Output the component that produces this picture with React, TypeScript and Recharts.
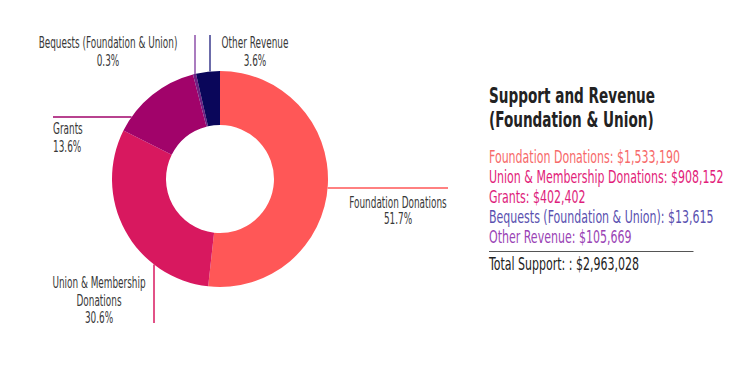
import React from "react";
import { PieChart, Pie, Cell, Legend } from "recharts";

const categories = [
  "Foundation Donations",
  "Union & Membership Donations",
  "Grants",
  "Bequests (Foundation & Union)",
  "Other Revenue",
];
const amounts = [1533190, 908152, 402402, 13615, 105669];
const percentLabels = ["51.7%", "30.6%", "13.6%", "0.3%", "3.6%"];
const chartLabelLines = [
  ["Foundation Donations"],
  ["Union & Membership", "Donations"],
  ["Grants"],
  ["Bequests (Foundation & Union)"],
  ["Other Revenue"],
];
const legendTitle = ["Support and Revenue", "(Foundation & Union)"];
const totalLabel = "Total Support: : $2,963,028";

const sliceColors = ["#FF5757", "#D8185F", "#A1036A", "#6E1F82", "#0A065A"];
const lineColors = ["#FF5757", "#D8185F", "#A1036A", "#8E50AA", "#3B3B8E"];
const legendColors = ["#F76A6A", "#E21D7A", "#DE1E7C", "#5A51B0", "#9A43B5"];

const FONT = "'DejaVu Sans Condensed', 'DejaVu Sans', sans-serif";
const LABEL_SQUEEZE = 0.66;
const LEGEND_SQUEEZE = 0.72;

const data = categories.map((name, i) => ({ name, value: amounts[i] }));

// leader-line layout per slice: horizontal line at dy, or vertical line at dx
const labelLayout = [
  { kind: "h", off: 9, to: 228, tx: 178, ty: [29, 45], anchor: "middle" },
  { kind: "v", off: -66, to: 144, tx: -121, ty: [109, 127, 144], anchor: "middle" },
  { kind: "h", off: -62, to: -167, tx: -167, ty: [-45, -27], anchor: "start" },
  { kind: "v", off: -25, to: -144, tx: -112, ty: [-131, -113], anchor: "middle" },
  { kind: "v", off: -10, to: -144, tx: 35, ty: [-131, -113], anchor: "middle" },
];

const renderLabel = (props: any) => {
  const { cx, cy, outerRadius, index } = props;
  const l = labelLayout[index];
  const edge = Math.sqrt(outerRadius * outerRadius - l.off * l.off);
  let x1, y1, x2, y2;
  if (l.kind === "h") {
    y1 = y2 = cy + l.off;
    x1 = cx + (l.to > 0 ? edge : -edge);
    x2 = cx + l.to;
  } else {
    x1 = x2 = cx + l.off;
    y1 = cy + (l.to > 0 ? edge : -edge);
    y2 = cy + l.to;
  }
  const lines = [...chartLabelLines[index], percentLabels[index]];
  return (
    <g key={`lbl-${index}`}>
      <line x1={x1} y1={y1} x2={x2} y2={y2} stroke={lineColors[index]} strokeWidth={1.5} />
      {lines.map((t, j) => (
        <text
          key={j}
          transform={`translate(${cx + l.tx},${cy + l.ty[j]}) scale(${LABEL_SQUEEZE},1)`}
          x={0}
          y={0}
          textAnchor={l.anchor}
          fill="#383838"
          fontSize={15}
          fontFamily={FONT}
        >
          {t}
        </text>
      ))}
    </g>
  );
};

const renderLegend = () => (
  <div
    style={{
      fontFamily: FONT,
      width: 284,
      transform: `scaleX(${LEGEND_SQUEEZE})`,
      transformOrigin: "0 0",
      textAlign: "left",
    }}
  >
    <div style={{ fontWeight: 700, fontSize: 21, lineHeight: "24px", color: "#222", marginBottom: 15 }}>
      {legendTitle.map((t) => (
        <div key={t} style={{ whiteSpace: "nowrap" }}>{t}</div>
      ))}
    </div>
    {categories.map((c, i) => (
      <div key={c} style={{ color: legendColors[i], fontSize: 17, lineHeight: "20px", whiteSpace: "nowrap" }}>
        {c}: ${amounts[i].toLocaleString("en-US")}
      </div>
    ))}
    <div
      style={{
        borderTop: "1.5px solid #555",
        marginTop: 3.5,
        paddingTop: 2,
        fontSize: 17,
        lineHeight: "20px",
        color: "#222",
        whiteSpace: "nowrap",
      }}
    >
      {totalLabel}
    </div>
  </div>
);

export default function App() {
  return (
    <PieChart width={735} height={380} margin={{ top: 0, right: 0, bottom: 0, left: 0 }}>
      <Pie
        data={data}
        dataKey="value"
        nameKey="name"
        cx={212}
        cy={171}
        innerRadius={54}
        outerRadius={108}
        startAngle={90}
        endAngle={-270}
        stroke="none"
        label={renderLabel}
        labelLine={false}
        isAnimationActive={false}
      >
        {data.map((d, i) => (
          <Cell key={d.name} fill={sliceColors[i]} />
        ))}
      </Pie>
      <Legend
        content={renderLegend}
        wrapperStyle={{ position: "absolute", left: 481, top: 76, width: 240 }}
      />
    </PieChart>
  );
}
